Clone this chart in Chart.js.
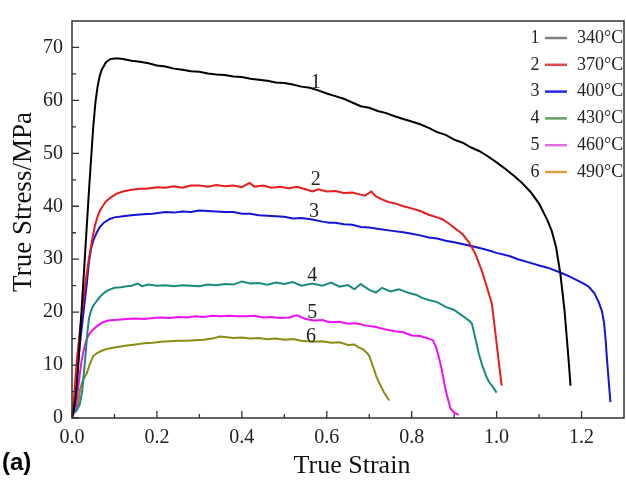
<!DOCTYPE html>
<html>
<head>
<meta charset="utf-8">
<script src="https://cdn.jsdelivr.net/npm/chart.js@4.4.0/dist/chart.umd.min.js"></script>
<style>
  html, body { margin: 0; padding: 0; background: #fff; }
  #wrap { width: 626px; height: 481px; }
</style>
</head>
<body>
<div id="wrap"><canvas id="chart" width="626" height="481"></canvas></div>
<script>
// tick labels
const xTicks = [0, 0.2, 0.4, 0.6, 0.8, 1.0, 1.2];
const yTicks = [0, 10, 20, 30, 40, 50, 60, 70];

// legend
const curveNums = ['1', '2', '3', '4', '5', '6'];
const temps = ['340°C', '370°C', '400°C', '430°C', '460°C', '490°C'];

// curve labels (number written next to each curve)
const labelX = [0.574, 0.574, 0.570, 0.566, 0.566, 0.563];
const labelY = [63.4, 45.0, 38.9, 26.9, 19.9, 15.3];

// 340°C
const strain1 = [0, 0.004, 0.008, 0.012, 0.016, 0.02, 0.025, 0.03, 0.035, 0.04, 0.045, 0.05, 0.055, 0.06, 0.065, 0.07, 0.08, 0.09, 0.10, 0.11,
  0.12, 0.14, 0.16, 0.18, 0.20, 0.22, 0.24, 0.26, 0.28, 0.30, 0.32, 0.34, 0.36, 0.38, 0.40, 0.42, 0.44, 0.46, 0.48, 0.50,
  0.52, 0.54, 0.56, 0.58, 0.60, 0.62, 0.64, 0.66, 0.68, 0.70, 0.72, 0.74, 0.76, 0.78, 0.80, 0.82, 0.84, 0.86, 0.88, 0.90,
  0.92, 0.94, 0.96, 0.98, 1.00, 1.02, 1.04, 1.06, 1.08, 1.10, 1.12, 1.13, 1.14, 1.15, 1.16, 1.165, 1.17, 1.174];
const stress1 = [0, 1.5, 3.5, 6.7, 11.5, 17, 23.5, 30, 36.5, 43, 49, 55, 59.5, 62.5, 64.5, 65.8, 67.2, 67.8, 67.9, 67.9,
  67.8, 67.5, 67.3, 67.0, 66.6, 66.4, 66.0, 65.8, 65.5, 65.4, 65.1, 64.9, 64.8, 64.5, 64.4, 64.1, 63.9, 63.7, 63.4, 63.3,
  63.0, 62.6, 62.4, 61.9, 61.3, 60.8, 60.3, 59.6, 58.9, 58.6, 58.0, 57.6, 57.0, 56.5, 56.0, 55.5, 54.8, 54.0, 53.5, 52.6,
  52.0, 51.1, 50.4, 49.4, 48.3, 47.1, 45.8, 44.4, 42.7, 40.5, 37.3, 35.3, 32.3, 27.3, 20.3, 15.4, 10.5, 6.1];

// 370°C
const strain2 = [0, 0.004, 0.008, 0.012, 0.016, 0.02, 0.025, 0.03, 0.035, 0.04, 0.047, 0.054, 0.06, 0.066, 0.073, 0.08, 0.09, 0.105, 0.12, 0.14,
  0.16, 0.175, 0.20, 0.22, 0.24, 0.26, 0.28, 0.30, 0.32, 0.34, 0.36, 0.38, 0.40, 0.418, 0.43, 0.45, 0.47, 0.49, 0.51, 0.53,
  0.55, 0.566, 0.58, 0.60, 0.62, 0.64, 0.66, 0.68, 0.69, 0.705, 0.715, 0.73, 0.745, 0.763, 0.78, 0.80, 0.82, 0.84, 0.86, 0.871,
  0.89, 0.904, 0.92, 0.935, 0.95, 0.966, 0.978, 0.989, 0.995, 1.0, 1.006, 1.012];
const stress2 = [0, 3, 7.5, 11.5, 14.5, 17.8, 21, 24.5, 27.5, 30.2, 33.5, 36.3, 38, 39.2, 40.1, 40.9, 41.6, 42.4, 42.8, 43.1,
  43.3, 43.3, 43.6, 43.5, 43.8, 43.5, 43.9, 43.9, 43.7, 44.0, 43.8, 43.9, 43.6, 44.4, 43.7, 43.9, 43.5, 43.7, 43.4, 43.7,
  43.2, 42.8, 43.2, 42.8, 42.9, 42.5, 42.6, 42.2, 42.0, 42.8, 41.9, 41.3, 40.8, 40.5, 40.0, 39.6, 39.1, 38.4, 37.9, 37.6,
  36.6, 35.7, 34.7, 33.2, 31.0, 27.6, 24.5, 21.5, 17.5, 14.1, 10, 6.1];

// 400°C
const strain3 = [0, 0.005, 0.01, 0.015, 0.02, 0.025, 0.03, 0.035, 0.04, 0.045, 0.05, 0.058, 0.065, 0.075, 0.089, 0.10, 0.12, 0.14, 0.167, 0.19,
  0.22, 0.24, 0.26, 0.28, 0.30, 0.32, 0.34, 0.36, 0.38, 0.40, 0.42, 0.44, 0.46, 0.48, 0.50, 0.52, 0.54, 0.566, 0.59, 0.606,
  0.62, 0.64, 0.66, 0.68, 0.70, 0.723, 0.75, 0.78, 0.80, 0.82, 0.84, 0.86, 0.88, 0.90, 0.935, 0.96, 0.98, 1.00, 1.03, 1.05,
  1.076, 1.10, 1.12, 1.153, 1.17, 1.19, 1.205, 1.217, 1.23, 1.24, 1.248, 1.253, 1.257, 1.26, 1.264, 1.268];
const stress3 = [0, 3, 6.5, 11, 15, 18.5, 22, 25.5, 29.5, 32, 33.5, 35, 36, 36.9, 37.6, 37.9, 38.1, 38.3, 38.5, 38.6,
  38.9, 38.8, 39.0, 38.9, 39.2, 39.1, 39.0, 38.9, 38.9, 38.6, 38.6, 38.3, 38.2, 38.1, 38.0, 37.7, 37.8, 37.5, 37.1, 36.9,
  36.9, 36.6, 36.5, 36.1, 36.0, 35.7, 35.4, 35.1, 34.8, 34.5, 34.1, 33.9, 33.5, 33.2, 32.6, 32.1, 31.7, 31.2, 30.6, 30.0,
  29.4, 28.8, 28.4, 27.4, 26.8, 26.0, 25.4, 24.8, 23.6, 22.0, 20.2, 18, 14.5, 11, 7, 3.0];

// 430°C
const strain4 = [0, 0.01, 0.018, 0.024, 0.028, 0.032, 0.036, 0.04, 0.045, 0.05, 0.058, 0.066, 0.075, 0.082, 0.09, 0.10, 0.115, 0.129, 0.14, 0.155,
  0.165, 0.18, 0.20, 0.22, 0.24, 0.26, 0.28, 0.30, 0.32, 0.34, 0.36, 0.38, 0.40, 0.42, 0.44, 0.46, 0.48, 0.50, 0.52, 0.54,
  0.566, 0.59, 0.61, 0.63, 0.65, 0.665, 0.68, 0.70, 0.716, 0.73, 0.75, 0.77, 0.794, 0.81, 0.825, 0.84, 0.86, 0.88, 0.90, 0.918,
  0.935, 0.942, 0.95, 0.958, 0.966, 0.975, 0.982, 0.989, 1.0];
const stress4 = [1, 1.3, 2.5, 5, 8.5, 12, 16, 18.8, 20.3, 21.2, 22.1, 22.9, 23.6, 24.0, 24.3, 24.6, 24.7, 24.9, 25.0, 25.4,
  24.9, 25.2, 25.0, 25.1, 24.9, 25.1, 25.0, 24.9, 25.2, 25.1, 25.3, 25.2, 25.8, 25.4, 25.5, 25.2, 25.6, 25.3, 25.7, 25.0,
  25.4, 25.0, 25.6, 24.8, 25.1, 24.3, 25.3, 24.2, 23.7, 24.6, 23.9, 24.3, 23.6, 23.3, 22.7, 22.3, 21.9, 21.0, 20.4, 19.4,
  18.4, 17.8, 15, 12.2, 10, 8.0, 6.8, 6.1, 4.8];

// 460°C
const strain5 = [0, 0.005, 0.01, 0.014, 0.018, 0.022, 0.027, 0.033, 0.04, 0.047, 0.055, 0.063, 0.073, 0.085, 0.10, 0.115, 0.129, 0.15, 0.17, 0.19,
  0.21, 0.23, 0.25, 0.27, 0.29, 0.31, 0.33, 0.35, 0.37, 0.39, 0.41, 0.43, 0.45, 0.47, 0.49, 0.51, 0.53, 0.55, 0.57, 0.59,
  0.606, 0.63, 0.65, 0.67, 0.69, 0.716, 0.74, 0.76, 0.78, 0.80, 0.82, 0.84, 0.85, 0.857, 0.864, 0.871, 0.877, 0.883, 0.888, 0.892,
  0.90, 0.911];
const stress5 = [0, 1, 2.5, 5.4, 8, 10.5, 12.5, 14.6, 15.8, 16.5, 17.1, 17.6, 18.1, 18.4, 18.5, 18.6, 18.7, 18.8, 18.7, 18.9,
  19.0, 18.9, 19.1, 19.0, 19.2, 19.1, 19.3, 19.2, 19.3, 19.2, 19.2, 19.3, 19.0, 19.1, 18.9, 19.0, 19.4, 18.7, 18.4, 18.5,
  18.1, 18.2, 17.8, 17.9, 17.5, 17.2, 16.7, 16.4, 16.2, 15.6, 15.5, 15.0, 14.7, 13.5, 11.5, 9.1, 6.5, 4.3, 2.8, 1.7,
  1.0, 0.6];

// 490°C
const strain6 = [0, 0.008, 0.014, 0.019, 0.024, 0.03, 0.035, 0.042, 0.05, 0.06, 0.073, 0.085, 0.10, 0.115, 0.129, 0.15, 0.17, 0.19, 0.21, 0.23,
  0.25, 0.27, 0.29, 0.31, 0.33, 0.348, 0.36, 0.38, 0.40, 0.42, 0.44, 0.46, 0.48, 0.50, 0.52, 0.54, 0.566, 0.59, 0.61, 0.63,
  0.65, 0.665, 0.676, 0.685, 0.695, 0.70, 0.71, 0.716, 0.723, 0.735, 0.747];
const stress6 = [1, 1.2, 2.5, 5.4, 6.8, 7.8, 8.5, 10.2, 11.7, 12.3, 12.8, 13.1, 13.3, 13.5, 13.7, 13.9, 14.1, 14.2, 14.4, 14.5,
  14.6, 14.6, 14.7, 14.8, 15.0, 15.4, 15.3, 15.1, 15.2, 15.0, 15.1, 14.9, 15.0, 14.8, 14.9, 14.6, 14.4, 14.5, 14.2, 14.3,
  13.8, 13.9, 13.3, 13.0, 12.3, 11.7, 9.5, 8.0, 6.7, 4.8, 3.3];

const strains = [strain1, strain2, strain3, strain4, strain5, strain6];
const stresses = [stress1, stress2, stress3, stress4, stress5, stress6];
const lineColors = ['#000000', '#e81c1c', '#1414d8', '#1a8a80', '#ee10ee', '#8b8b14'];
const legendColors = ['#808080', '#e04848', '#2828e0', '#5fa060', '#e070e0', '#e0a040'];

const serif = '"Liberation Serif", "Times New Roman", serif';

const datasets = strains.map((xs, i) => ({
  label: temps[i],
  data: xs.map((x, j) => ({ x: x, y: stresses[i][j] })),
  borderColor: lineColors[i],
  borderWidth: 2,
  pointRadius: 0,
  showLine: true,
  tension: 0,
  fill: false
}));

// frame, inward ticks, curve numbers, legend, titles
const decorPlugin = {
  id: 'decor',
  afterDatasetsDraw(chart) {
    const ctx = chart.ctx;
    const a = chart.chartArea;
    const xs = chart.scales.x, ys = chart.scales.y;
    ctx.save();
    ctx.strokeStyle = '#333';
    ctx.lineWidth = 1.5;
    ctx.strokeRect(a.left, a.top, a.right - a.left, a.bottom - a.top);

    ctx.lineWidth = 1.3;
    ctx.beginPath();
    for (let v = 0; v <= 1.2001; v += 0.1) {
      const px = xs.getPixelForValue(v);
      const major = Math.round(v * 10) % 2 === 0;
      ctx.moveTo(px, a.bottom);
      ctx.lineTo(px, a.bottom - (major ? 7 : 4));
    }
    for (let v = 0; v <= 70; v += 5) {
      const py = ys.getPixelForValue(v);
      const major = v % 10 === 0;
      ctx.moveTo(a.left, py);
      ctx.lineTo(a.left + (major ? 7 : 4), py);
    }
    ctx.stroke();

    // numbers on the curves
    ctx.fillStyle = '#222';
    ctx.font = '20px ' + serif;
    ctx.textAlign = 'center';
    ctx.textBaseline = 'middle';
    curveNums.forEach((n, i) => {
      ctx.fillText(n, xs.getPixelForValue(labelX[i]), ys.getPixelForValue(labelY[i]));
    });

    // legend
    ctx.font = '18px ' + serif;
    curveNums.forEach((n, i) => {
      const y = a.top + 17 + i * 26.8;
      ctx.fillStyle = '#222';
      ctx.textAlign = 'center';
      ctx.fillText(n, a.right - 89, y);
      ctx.strokeStyle = legendColors[i];
      ctx.lineWidth = 2.5;
      ctx.beginPath();
      ctx.moveTo(a.right - 79, y);
      ctx.lineTo(a.right - 57, y);
      ctx.stroke();
      ctx.textAlign = 'left';
      ctx.fillText(temps[i], a.right - 47, y);
    });
    ctx.restore();
  },
  afterDraw(chart) {
    const ctx = chart.ctx;
    ctx.save();
    ctx.fillStyle = '#111';
    ctx.textAlign = 'center';
    ctx.textBaseline = 'middle';
    ctx.font = '26px ' + serif;
    ctx.fillText('True Strain', 352, 466);
    ctx.translate(24, 202);
    ctx.rotate(-Math.PI / 2);
    ctx.font = '27px ' + serif;
    ctx.fillText('True Stress/MPa', 0, 0);
    ctx.restore();

    ctx.save();
    ctx.fillStyle = '#000';
    ctx.font = 'bold 24px "Liberation Sans", Arial, sans-serif';
    ctx.textAlign = 'left';
    ctx.textBaseline = 'middle';
    ctx.fillText('(a)', 2, 463);
    ctx.restore();
  }
};

new Chart(document.getElementById('chart'), {
  type: 'scatter',
  data: { datasets: datasets },
  options: {
    responsive: false,
    animation: false,
    layout: { padding: { top: 10, right: 2, left: 0, bottom: 0 } },
    plugins: { legend: { display: false }, tooltip: { enabled: false } },
    scales: {
      x: {
        type: 'linear',
        min: 0,
        max: 1.3,
        afterBuildTicks: s => { s.ticks = xTicks.map(v => ({ value: v })); },
        afterFit: s => { s.height = 63; },
        grid: { display: false, drawTicks: false },
        border: { display: false },
        ticks: {
          padding: 8,
          color: '#222',
          font: { family: serif, size: 20 },
          callback: v => v.toFixed(1),
          maxRotation: 0
        }
      },
      y: {
        type: 'linear',
        min: 0,
        max: 75,
        afterBuildTicks: s => { s.ticks = yTicks.map(v => ({ value: v })); },
        afterFit: s => { s.width = 72; },
        grid: { display: false, drawTicks: false },
        border: { display: false },
        ticks: {
          padding: 9,
          color: '#222',
          font: { family: serif, size: 20 },
          callback: v => String(v)
        }
      }
    }
  },
  plugins: [decorPlugin]
});
</script>
</body>
</html>
